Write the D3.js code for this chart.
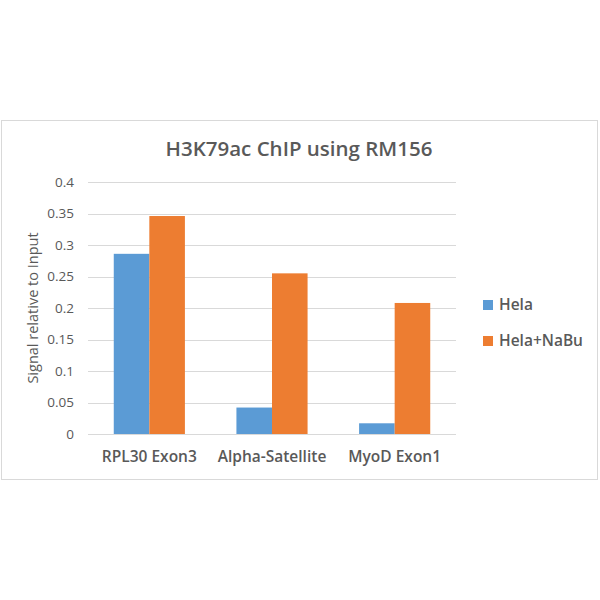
<!DOCTYPE html>
<html>
<head>
<meta charset="utf-8">
<script src="https://cdn.jsdelivr.net/npm/d3@7"></script>
<style>
  body { margin: 0; background: #fff; }
  text { font-family: "Open Sans", "Noto Sans", sans-serif; fill: #595959; }
</style>
</head>
<body>
<div id="chart"></div>
<script>
// data
const categories = ['RPL30 Exon3', 'Alpha-Satellite', 'MyoD Exon1'];
const seriesNames = ['Hela', 'Hela+NaBu'];
const hela = [0.286, 0.042, 0.017];
const helaNaBu = [0.346, 0.255, 0.208];
const yTicks = [0, 0.05, 0.1, 0.15, 0.2, 0.25, 0.3, 0.35, 0.4];
const colors = ['#5b9bd5', '#ed7d31'];

const values = [hela, helaNaBu];

const svg = d3.select('#chart')
  .append('svg')
  .attr('width', 600)
  .attr('height', 600);

// outer chart frame
svg.append('rect')
  .attr('x', 1.5)
  .attr('y', 120.5)
  .attr('width', 596)
  .attr('height', 359)
  .attr('fill', '#fff')
  .attr('stroke', '#d9d9d9');

const margin = { top: 182, left: 88 };
const width = 368;
const height = 252;

const g = svg.append('g')
  .attr('transform', `translate(${margin.left},${margin.top})`);

const x = d3.scaleBand()
  .domain(categories)
  .range([0, width])
  .paddingInner(0.42)
  .paddingOuter(0.21);

const xs = d3.scaleBand()
  .domain(seriesNames)
  .range([0, x.bandwidth()]);

const y = d3.scaleLinear()
  .domain([0, 0.4])
  .range([height, 0]);

// gridlines
g.append('g')
  .selectAll('line')
  .data(yTicks)
  .enter()
  .append('line')
  .attr('x1', 0)
  .attr('x2', width)
  .attr('y1', d => Math.round(y(d)) + 0.5)
  .attr('y2', d => Math.round(y(d)) + 0.5)
  .attr('stroke', '#d9d9d9');

// y axis labels
const yAxis = g.append('g')
  .call(d3.axisLeft(y).tickValues(yTicks).tickFormat(d => String(d)).tickSize(0).tickPadding(14));
yAxis.select('.domain').remove();
yAxis.selectAll('text')
  .style('font-size', '13.5px')
  .attr('fill', '#595959');

// bars
seriesNames.forEach((name, si) => {
  g.append('g')
    .selectAll('rect')
    .data(categories)
    .enter()
    .append('rect')
    .attr('x', d => x(d) + xs(name))
    .attr('y', (d, i) => y(values[si][i]))
    .attr('width', xs.bandwidth())
    .attr('height', (d, i) => height - y(values[si][i]))
    .attr('fill', colors[si]);
});

// x axis labels
const xAxis = g.append('g')
  .attr('transform', `translate(0,${height})`)
  .call(d3.axisBottom(x).tickSize(0).tickPadding(17));
xAxis.select('.domain').remove();
xAxis.selectAll('text')
  .style('font-size', '15.5px')
  .style('font-weight', '600')
  .attr('fill', '#595959');

// title
svg.append('text')
  .attr('x', 299)
  .attr('y', 156)
  .attr('text-anchor', 'middle')
  .style('font-size', '20.5px')
  .style('font-weight', '600')
  .text('H3K79ac ChIP using RM156');

// y axis title
svg.append('text')
  .attr('transform', 'translate(38,308) rotate(-90)')
  .attr('text-anchor', 'middle')
  .style('font-size', '14.5px')
  .text('Signal relative to Input');

// legend
const legend = svg.append('g')
  .attr('transform', 'translate(483,300)');
seriesNames.forEach((name, i) => {
  const row = legend.append('g').attr('transform', `translate(0,${i * 36})`);
  row.append('rect')
    .attr('width', 10)
    .attr('height', 10)
    .attr('fill', colors[i]);
  row.append('text')
    .attr('x', 16)
    .attr('y', 10)
    .style('font-size', '15.5px')
    .style('font-weight', '600')
    .text(name);
});
</script>
</body>
</html>
